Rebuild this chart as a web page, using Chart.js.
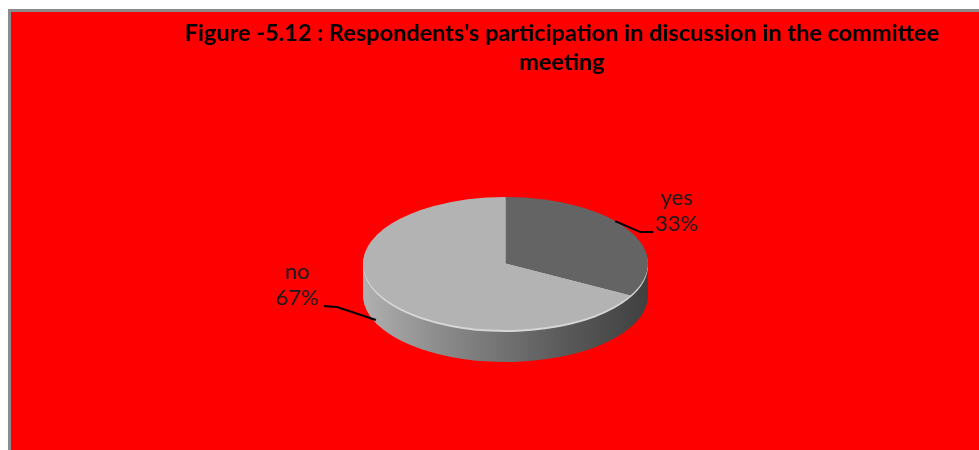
<!DOCTYPE html>
<html>
<head>
<meta charset="utf-8">
<style>
  html, body { margin: 0; padding: 0; background: #ffffff; }
  #wrap { width: 979px; height: 450px; position: relative; }
</style>
<script src="https://cdn.jsdelivr.net/npm/chart.js@4/dist/chart.umd.min.js"></script>
</head>
<body>
<div id="wrap"><canvas id="c" width="979" height="450"></canvas></div>
<script>
// ---- data ----
const categories = ['yes', 'no'];
const values = [33, 67];
const sliceColors = ['#646464', '#b3b3b3'];
const titleLines = ["Figure -5.12 : Respondents's participation in discussion in the committee", 'meeting'];

// ---- 3D look (styling only) ----
const tilt = { cx: 505.5, cy: 263.5, rx: 142.5, ry: 66.5, depth: 32 };
const labelStyle = [
  // yes: label on the right
  { side: 'right', angleShift: -9, depthFrac: 0, elbow: [25, 11], tail: 13 },
  // no: label on the left
  { side: 'left', angleShift: 6, depthFrac: 0.9, elbow: [-39, -13], tail: -13 }
];

function setTiltTransform(ctx, el, d) {
  const s = tilt.rx / el.outerRadius;
  const sy = tilt.ry / el.outerRadius;
  ctx.setTransform(s, 0, 0, sy, tilt.cx - s * el.x, tilt.cy + d - sy * el.y);
}

const pie3d = {
  id: 'pie3d',
  beforeDraw(chart) {
    const ctx = chart.ctx;
    ctx.save();
    ctx.fillStyle = '#ffffff';
    ctx.fillRect(0, 0, chart.width, chart.height);
    ctx.fillStyle = '#8c8c8c';
    ctx.fillRect(8, 9, chart.width - 8, chart.height - 9);
    ctx.fillStyle = '#ff0000';
    ctx.fillRect(11, 12, chart.width - 11, chart.height - 12);
    ctx.restore();
  },
  beforeDatasetsDraw(chart) {
    const ctx = chart.ctx;
    const meta = chart.getDatasetMeta(0);
    const els = meta.data;
    if (!els.length) return false;
    const e0 = els[0];
    // side walls
    for (let d = tilt.depth; d >= 1; d--) {
      ctx.save();
      setTiltTransform(ctx, e0, d);
      const g = ctx.createLinearGradient(e0.x - e0.outerRadius, 0, e0.x + e0.outerRadius, 0);
      g.addColorStop(0, '#b0b0b0');
      g.addColorStop(0.25, '#8e8e8e');
      g.addColorStop(0.7, '#5a5a5a');
      g.addColorStop(1, '#404040');
      els.forEach(el => {
        const orig = el.options;
        el.options = Object.assign({}, orig, { backgroundColor: g, borderWidth: 0 });
        el.draw(ctx);
        el.options = orig;
      });
      ctx.restore();
    }
    // bevel highlight just under the top face
    ctx.save();
    setTiltTransform(ctx, e0, 2);
    els.forEach(el => {
      const orig = el.options;
      el.options = Object.assign({}, orig, { backgroundColor: '#d6d6d6', borderWidth: 0 });
      el.draw(ctx);
      el.options = orig;
    });
    ctx.restore();
    // top face
    ctx.save();
    setTiltTransform(ctx, e0, 0);
    els.forEach(el => el.draw(ctx));
    ctx.restore();
    return false;
  },
  afterDraw(chart) {
    const ctx = chart.ctx;
    const meta = chart.getDatasetMeta(0);
    const total = values.reduce((a, b) => a + b, 0);
    ctx.save();
    ctx.font = '22px Lato';
    ctx.fillStyle = '#1a1a1a';
    ctx.strokeStyle = '#000000';
    ctx.lineWidth = 2;
    ctx.textBaseline = 'middle';
    meta.data.forEach((el, i) => {
      const st = labelStyle[i];
      const a = (el.startAngle + el.endAngle) / 2 + st.angleShift * Math.PI / 180;
      const ax = tilt.cx + tilt.rx * Math.cos(a);
      const ay = tilt.cy + tilt.ry * Math.sin(a) + tilt.depth * st.depthFrac;
      const bx = ax + st.elbow[0], by = ay + st.elbow[1];
      const ex = bx + st.tail, ey = by + (st.side === 'left' ? -1 : 0);
      ctx.beginPath();
      ctx.moveTo(ax, ay);
      ctx.lineTo(bx, by);
      ctx.lineTo(ex, ey);
      ctx.stroke();
      const pct = Math.round(values[i] / total * 100) + '%';
      const wp = ctx.measureText(pct).width;
      let px;
      if (st.side === 'right') { px = ex + 2; } else { px = ex - 5 - wp; }
      ctx.textAlign = 'left';
      ctx.fillText(pct, px, ey - 8);
      ctx.textAlign = 'center';
      ctx.fillText(categories[i], px + wp / 2, ey - 34);
    });
    ctx.restore();
  }
};

new Chart(document.getElementById('c'), {
  type: 'pie',
  data: {
    labels: categories,
    datasets: [{
      data: values,
      backgroundColor: sliceColors,
      borderWidth: 0
    }]
  },
  options: {
    responsive: false,
    animation: false,
    events: [],
    layout: { padding: { left: 145, right: 0, top: 0, bottom: 0 } },
    plugins: {
      legend: { display: false },
      tooltip: { enabled: false },
      title: {
        display: true,
        text: titleLines,
        color: '#000000',
        font: { family: 'Lato', weight: 'bold', size: 23.5, lineHeight: 1.234 },
        padding: { top: 18.5, bottom: 10 }
      }
    }
  },
  plugins: [pie3d]
});
</script>
</body>
</html>
